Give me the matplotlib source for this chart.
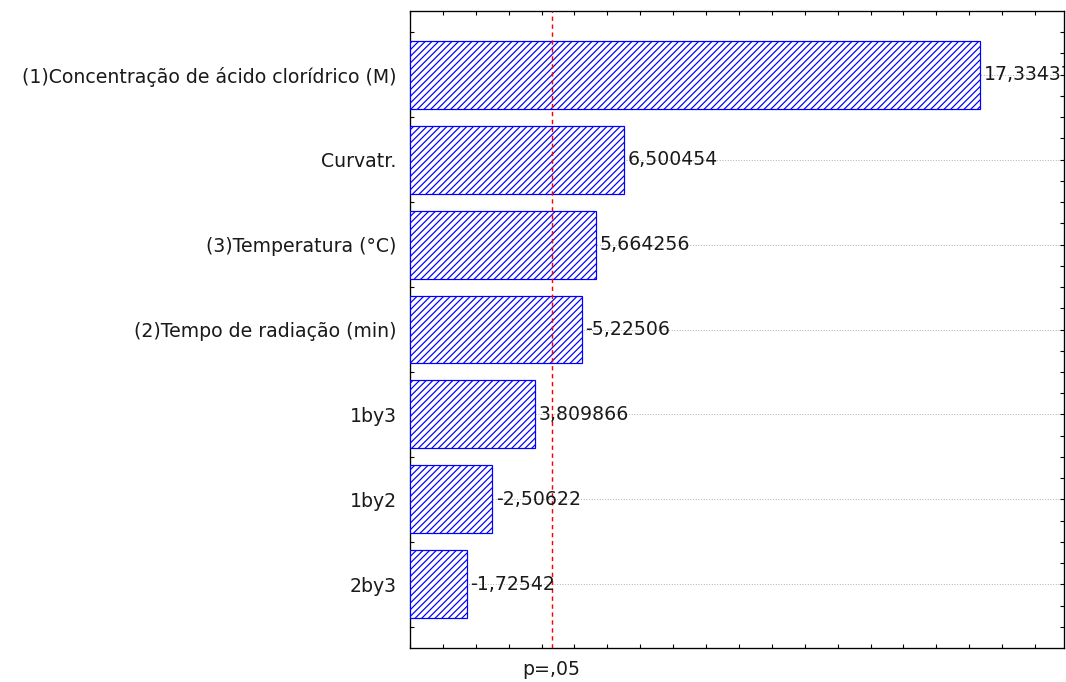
import matplotlib
matplotlib.use("Agg")
import matplotlib.pyplot as plt
from matplotlib.ticker import MultipleLocator, FixedLocator

categories = ["(1)Concentração de ácido clorídrico (M)", "Curvatr.", "(3)Temperatura (°C)",
              "(2)Tempo de radiação (min)", "1by3", "1by2", "2by3"]
effects = [17.33437, 6.500454, 5.664256, -5.22506, 3.809866, -2.50622, -1.72542]
value_labels = ["17,33437", "6,500454", "5,664256", "-5,22506", "3,809866", "-2,50622", "-1,72542"]
p_crit = 4.302653
p_label = "p=,05"

DPI = 80
plt.rcParams['font.family'] = ['DejaVu Sans']
plt.rcParams['hatch.linewidth'] = 1.1
plt.rcParams['hatch.color'] = '#1010FF'
fs = 17
tc = '#1a1a1a'

fig = plt.figure(figsize=(1066 / DPI, 682 / DPI), dpi=DPI)
ax = fig.add_axes([410 / 1066, 1 - 648 / 682, 654 / 1066, 637 / 682])

ypos = list(range(len(categories)))
absvals = [abs(v) for v in effects]
ax.barh(ypos, absvals, height=0.8, color='white', edgecolor='#0000FF', hatch='////',
        linewidth=1.1, zorder=3)

for y, v, lab in zip(ypos, absvals, value_labels):
    ax.text(v + 0.1, y, lab, ha='left', va='center', fontsize=fs, color=tc,
            clip_on=True, zorder=5)

ax.axvline(p_crit, color='#FF0000', linestyle=(0, (3, 2.5)), linewidth=1.3, zorder=4)

ax.set_xlim(0, 19.88)
ax.set_ylim(6.75, -0.75)
ax.set_yticks(ypos)
ax.set_yticklabels(categories, fontsize=fs, color=tc)
ax.yaxis.set_minor_locator(FixedLocator([i * 0.25 - 0.5 for i in range(29)]))
ax.xaxis.set_major_locator(MultipleLocator(1))
ax.set_xticklabels([])
ax.grid(axis='y', which='major', color='#A0A0A0', linestyle=(0, (1, 2)), linewidth=0.8, zorder=1)
ax.tick_params(axis='both', which='both', direction='in', length=4, width=1,
               top=True, right=True, bottom=True, left=True, color='black')
ax.tick_params(axis='y', which='major', pad=12)
for s in ax.spines.values():
    s.set_linewidth(1.2)
    s.set_color('black')

ax.annotate(p_label, xy=(p_crit, 0), xycoords=('data', 'axes fraction'),
            xytext=(0, -11), textcoords='offset points', ha='center', va='top',
            fontsize=fs, color=tc, annotation_clip=False)

fig.savefig("out.png", dpi=DPI)
